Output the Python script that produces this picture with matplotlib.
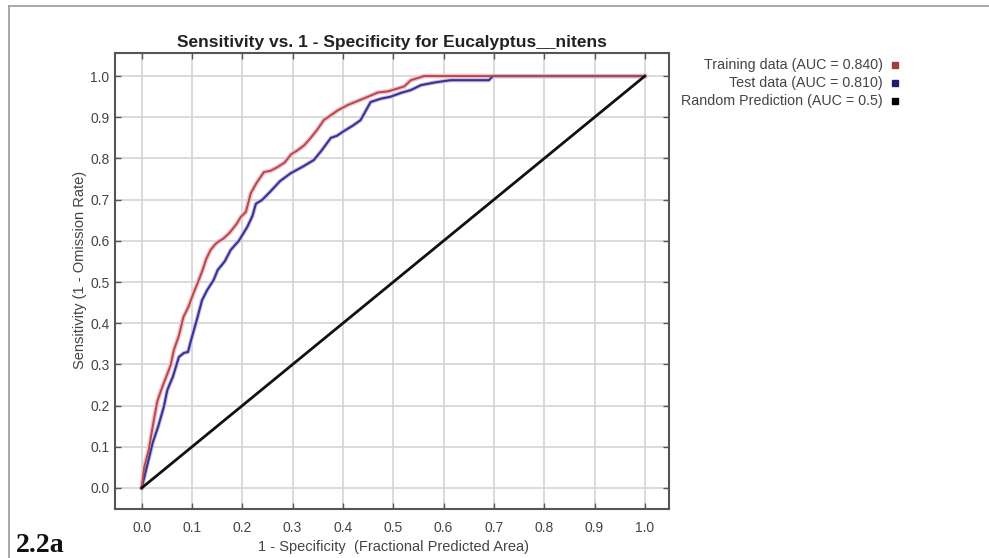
import matplotlib
matplotlib.use("Agg")
import matplotlib.pyplot as plt
from matplotlib.lines import Line2D
from matplotlib.patches import Rectangle

title = "Sensitivity vs. 1 - Specificity for Eucalyptus__nitens"
xlabel = "1 - Specificity  (Fractional Predicted Area)"
ylabel = "Sensitivity (1 - Omission Rate)"
panel_label = "2.2a"

legend_labels = ["Training data (AUC = 0.840)", "Test data (AUC = 0.810)",
                 "Random Prediction (AUC = 0.5)"]

train_x = [0.0, 0.005, 0.014, 0.022, 0.031, 0.038, 0.044, 0.052, 0.058, 0.064,
           0.074, 0.083, 0.093, 0.103, 0.112, 0.121, 0.128, 0.137, 0.145, 0.151,
           0.162, 0.175, 0.188, 0.197, 0.207, 0.217, 0.228, 0.243, 0.256, 0.270,
           0.284, 0.297, 0.310, 0.323, 0.336, 0.349, 0.362, 0.376, 0.390, 0.410,
           0.430, 0.450, 0.469, 0.490, 0.509, 0.522, 0.535, 0.548, 0.561, 0.70,
           1.0]
train_y = [0.0, 0.05, 0.092, 0.15, 0.21, 0.235, 0.255, 0.28, 0.30, 0.335,
           0.37, 0.415, 0.44, 0.473, 0.50, 0.529, 0.555, 0.578, 0.59, 0.597,
           0.605, 0.62, 0.64, 0.658, 0.67, 0.716, 0.74, 0.767, 0.77, 0.779,
           0.79, 0.81, 0.82, 0.832, 0.85, 0.87, 0.893, 0.905, 0.917, 0.93,
           0.94, 0.95, 0.96, 0.963, 0.97, 0.975, 0.99, 0.995, 1.0, 1.0,
           1.0]

test_x = [0.0, 0.006, 0.012, 0.022, 0.033, 0.044, 0.051, 0.062, 0.074, 0.084,
          0.092, 0.100, 0.110, 0.120, 0.130, 0.143, 0.151, 0.165, 0.177, 0.193,
          0.210, 0.220, 0.227, 0.240, 0.256, 0.275, 0.296, 0.320, 0.342, 0.358,
          0.376, 0.388, 0.400, 0.420, 0.435, 0.445, 0.455, 0.475, 0.495, 0.515,
          0.535, 0.555, 0.585, 0.614, 0.650, 0.690, 0.698, 1.0]
test_y = [0.0, 0.03, 0.06, 0.11, 0.15, 0.197, 0.238, 0.27, 0.318, 0.328,
          0.33, 0.367, 0.41, 0.456, 0.48, 0.505, 0.529, 0.55, 0.578, 0.60,
          0.634, 0.66, 0.69, 0.70, 0.72, 0.745, 0.764, 0.78, 0.796, 0.82,
          0.85, 0.855, 0.865, 0.88, 0.893, 0.915, 0.937, 0.945, 0.95, 0.959,
          0.966, 0.978, 0.985, 0.99, 0.99, 0.99, 1.0, 1.0]

random_x = [0.0, 1.0]
random_y = [0.0, 1.0]

ticks = [0.0, 0.1, 0.2, 0.3, 0.4, 0.5, 0.6, 0.7, 0.8, 0.9, 1.0]
tick_labels = ["0.0", "0.1", "0.2", "0.3", "0.4", "0.5", "0.6", "0.7", "0.8", "0.9", "1.0"]

plt.rcParams['font.family'] = ['Liberation Sans', 'DejaVu Sans']

W, H = 989, 558
fig = plt.figure(figsize=(W / 100, H / 100), dpi=100)

# figure border (top and left)
fig.add_artist(Line2D([9 / W, 9 / W], [0, 1 - 6 / H], transform=fig.transFigure,
                      color="#9a9a9a", lw=1.2))
fig.add_artist(Line2D([9 / W, 1], [1 - 6 / H, 1 - 6 / H], transform=fig.transFigure,
                      color="#9a9a9a", lw=1.2))

ax = fig.add_axes([115 / W, 1 - 509 / H, (669 - 115) / W, (509 - 53) / H])
ax.set_xlim(-0.053, 1.048)
ax.set_ylim(-0.051, 1.056)

ax.set_xticks(ticks)
ax.set_xticklabels(tick_labels)
ax.set_yticks(ticks)
ax.set_yticklabels(tick_labels)
ax.grid(True, color="#d4d4d4", lw=1.2)
ax.set_axisbelow(True)
ax.tick_params(direction="in", length=4, width=1, color="#555555",
               top=True, right=True, labelsize=10, labelcolor="#444444")
ax.tick_params(axis="x", pad=9)
ax.tick_params(axis="y", pad=4)
for s in ax.spines.values():
    s.set_color("#555555")
    s.set_linewidth(1.5)

# halos
ax.plot(train_x, train_y, color="#f4c2cc", lw=3.4, solid_joinstyle="round", zorder=2)
ax.plot(test_x, test_y, color="#cdbde8", lw=3.0, solid_joinstyle="round", zorder=2)
ax.plot(train_x, train_y, color="#b04a4c", lw=1.4, zorder=4)
ax.plot(test_x, test_y, color="#35358f", lw=1.5, zorder=3)
ax.plot(random_x, random_y, color="#111111", lw=2.0, zorder=5)

fig.text(392 / W, 1 - 42 / H, title, ha="center", va="center", fontsize=12.5,
         fontweight="bold", color="#222222")
fig.text(393 / W, 1 - 547 / H, xlabel, ha="center", va="center", fontsize=10.5,
         color="#444444")
fig.text(80 / W, 1 - 270 / H, ylabel, ha="center", va="center", fontsize=10.5,
         color="#444444", rotation=90)

leg_colors = ["#a0403c", "#1e1e70", "#000000"]
leg_y = [65, 83, 101]
for lab, c, yy in zip(legend_labels, leg_colors, leg_y):
    fig.text(883 / W, 1 - yy / H, lab, ha="right", va="center", fontsize=10.3,
             color="#444444")
    fig.add_artist(Rectangle((892 / W, 1 - (yy + 3) / H), 6 / W, 6 / H,
                             transform=fig.transFigure, color=c))

fig.text(16 / W, 1 - 545 / H, panel_label, ha="left", va="center", fontsize=20,
         fontweight="bold", family=["Liberation Serif", "DejaVu Serif"], color="#111111")

fig.savefig("out.png", dpi=100)
